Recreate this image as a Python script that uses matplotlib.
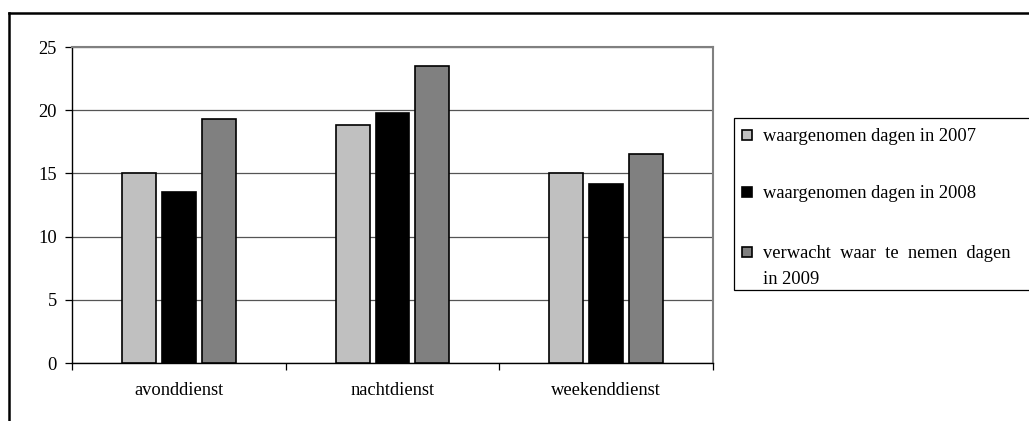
import matplotlib
matplotlib.use("Agg")
import matplotlib.pyplot as plt
from matplotlib.lines import Line2D
from matplotlib.patches import Rectangle
import numpy as np

categories = ["avonddienst", "nachtdienst", "weekenddienst"]
series_labels = ["waargenomen dagen in 2007",
                 "waargenomen dagen in 2008",
                 "verwacht  waar  te  nemen  dagen\nin 2009"]
values_2007 = [15.0, 18.8, 15.0]
values_2008 = [13.5, 19.8, 14.2]
values_2009 = [19.3, 23.5, 16.5]
colors = ["#C0C0C0", "#000000", "#808080"]
yticks = [0, 5, 10, 15, 20, 25]

plt.rcParams['font.family'] = ['Liberation Serif', 'DejaVu Serif']
FS = 13.3

W, H = 1029, 421
fig = plt.figure(figsize=(W / 100, H / 100), dpi=100)
ax = fig.add_axes([72 / W, 1 - 363 / H, (713 - 72) / W, (363 - 47) / H])

x = np.arange(len(categories))
bw = 0.159
off = 0.187
series = [values_2007, values_2008, values_2009]
for i, (vals, c) in enumerate(zip(series, colors)):
    ax.bar(x + (i - 1) * off, vals, width=bw, color=c, edgecolor="black",
           linewidth=1.2, zorder=3)

ax.set_xlim(-0.5, len(categories) - 0.5)
ax.set_ylim(0, 25)
ax.set_yticks(yticks)
ax.set_yticklabels([str(t) for t in yticks], fontsize=FS)
ax.yaxis.grid(True, color="#555555", linewidth=0.9, zorder=0)
ax.set_axisbelow(True)

ax.set_xticks(np.arange(-0.5, len(categories)), minor=False)
ax.set_xticklabels([""] * (len(categories) + 1))
ax.set_xticks(x, minor=True)
ax.set_xticklabels(categories, minor=True, fontsize=FS)
ax.tick_params(axis="x", which="minor", length=0, pad=14)
ax.tick_params(axis="x", which="major", length=5, width=0.9, direction="out")
ax.tick_params(axis="y", length=5, width=0.9, direction="out", pad=6)

for s in ["left", "bottom"]:
    ax.spines[s].set_color("black")
    ax.spines[s].set_linewidth(1.0)
for s in ["top", "right"]:
    ax.spines[s].set_color("#808080")
    ax.spines[s].set_linewidth(1.5)

# outer frame (top and left edges visible)
fig.add_artist(Line2D([9 / W, 1.0], [1 - 12.5 / H, 1 - 12.5 / H],
                      transform=fig.transFigure, color="black", linewidth=1.8))
fig.add_artist(Line2D([9 / W, 9 / W], [1 - 12.5 / H, 0.0],
                      transform=fig.transFigure, color="black", linewidth=1.8))

# legend box
lx0, ly0, lx1, ly1 = 734, 118, 1032, 290
fig.add_artist(Rectangle((lx0 / W, 1 - ly1 / H), (lx1 - lx0) / W, (ly1 - ly0) / H,
                         transform=fig.transFigure, facecolor="white",
                         edgecolor="black", linewidth=0.9))
entry_y = [135, 192, 252]
for lab, c, yy in zip(series_labels, colors, entry_y):
    sq = 10
    fig.add_artist(Rectangle((742 / W, 1 - (yy + sq / 2) / H), sq / W, sq / H,
                             transform=fig.transFigure, facecolor=c,
                             edgecolor="black", linewidth=1.2))
    fig.text(763 / W, 1 - (yy - 7) / H, lab, fontsize=FS, ha="left", va="top",
             linespacing=1.7)

fig.savefig("out.png", dpi=100)
